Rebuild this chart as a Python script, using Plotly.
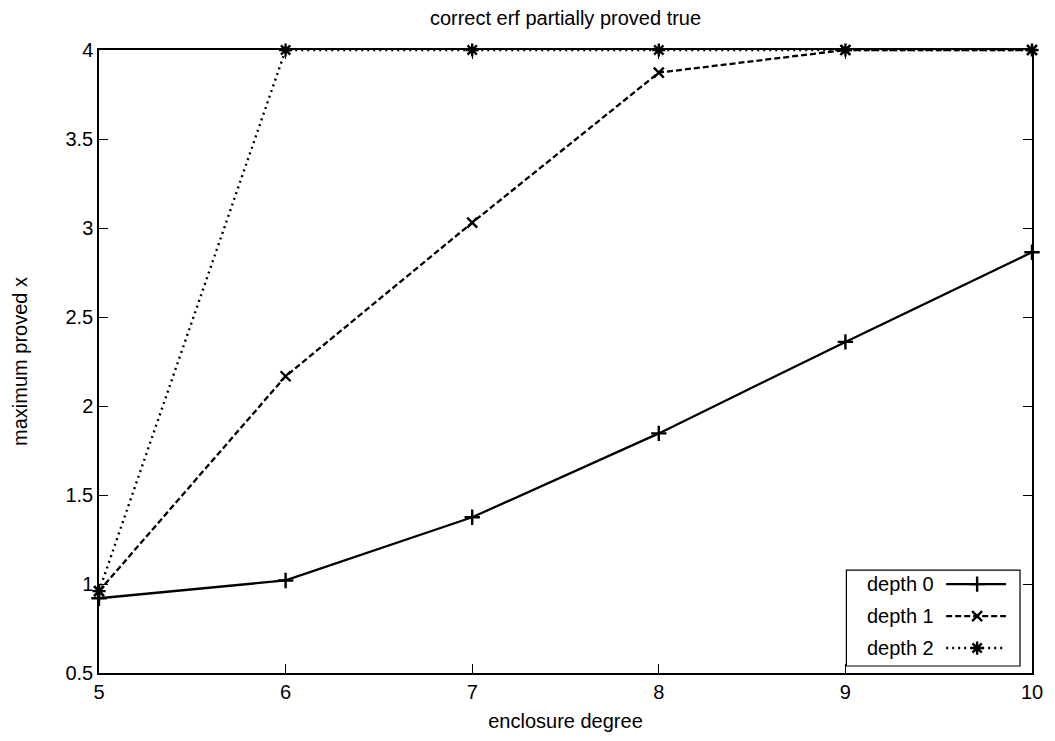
import plotly.graph_objects as go

# ---- data ----
degrees = [5, 6, 7, 8, 9, 10]
depth0 = [0.92, 1.02, 1.375, 1.846, 2.36, 2.864]
depth1 = [0.96, 2.167, 3.03, 3.873, 4.0, 4.0]
depth2 = [0.96, 4.0, 4.0, 4.0, 4.0, 4.0]
series_names = ["depth 0", "depth 1", "depth 2"]
y_ticks = [0.5, 1, 1.5, 2, 2.5, 3, 3.5, 4]
y_tick_text = ["0.5", "1", "1.5", "2", "2.5", "3", "3.5", "4"]
x_ticks = [5, 6, 7, 8, 9, 10]

W, H = 1055, 741
L, R, T, B = 99, 1034, 50, 674  # plot area in pixels
FONT = "Liberation Sans, Arial, Helvetica, sans-serif"
FS = 20

styles = [
    dict(dash="solid", width=2.3, symbol="cross-thin-open", msize=11),
    dict(dash="6px,3px", width=2.3, symbol="x-thin-open", msize=10),
    dict(dash="2px,4px", width=2.4, symbol="asterisk-open", msize=11),
]
values = [depth0, depth1, depth2]

fig = go.Figure()
for name, ys, st in zip(series_names, values, styles):
    fig.add_trace(go.Scatter(
        x=degrees, y=ys, name=name, mode="lines+markers",
        line=dict(color="black", width=st["width"], dash=st["dash"]),
        marker=dict(symbol=st["symbol"], size=st["msize"], color="black",
                    line=dict(color="black", width=2.4)),
        showlegend=False, cliponaxis=False,
    ))

# ---- custom gnuplot-style legend (text left, sample right) ----
def px(xp):
    return (xp - L) / (R - L)

def py(yp):
    return (B - yp) / (B - T)

shapes = [dict(type="rect", xref="paper", yref="paper",
               x0=px(848), x1=px(1022), y0=py(667), y1=py(571),
               line=dict(color="black", width=1.2), fillcolor="rgba(0,0,0,0)", layer="above")]
annotations = []
rows = [585, 617, 649]
for name, st, ry in zip(series_names, styles, rows):
    shapes.append(dict(type="line", xref="paper", yref="paper",
                       x0=px(948), x1=px(1008), y0=py(ry), y1=py(ry),
                       line=dict(color="black", width=st["width"], dash=st["dash"]),
                       layer="above"))
    annotations.append(dict(xref="paper", yref="paper", x=px(938), y=py(ry),
                            text=name, showarrow=False, xanchor="right",
                            yanchor="middle", font=dict(family=FONT, size=FS, color="black")))
    fig.add_trace(go.Scatter(
        x=[px(979)], y=[py(ry)], xaxis="x2", yaxis="y2", mode="markers",
        marker=dict(symbol=st["symbol"], size=st["msize"], color="black",
                    line=dict(color="black", width=2.4)),
        showlegend=False, hoverinfo="skip", cliponaxis=False,
    ))

axis_common = dict(
    showgrid=False, zeroline=False, showline=True, linecolor="black", linewidth=1.5,
    mirror="allticks", ticks="inside", ticklen=9, tickwidth=1.2, tickcolor="black",
    tickfont=dict(family=FONT, size=FS, color="black"),
)

fig.update_layout(
    width=W, height=H,
    margin=dict(l=L, r=W - R, t=T, b=H - B),
    paper_bgcolor="white", plot_bgcolor="white",
    title=dict(text="correct erf partially proved true", xref="paper", x=0.5, xanchor="center",
               y=1 - 18 / H, yanchor="middle",
               font=dict(family=FONT, size=FS, color="black")),
    xaxis=dict(range=[5, 10], tickvals=x_ticks,
               title=dict(text="enclosure degree", font=dict(family=FONT, size=FS, color="black"),
                          standoff=12),
               **axis_common),
    yaxis=dict(range=[0.5, 4], tickvals=y_ticks, ticktext=y_tick_text,
               title=dict(text="maximum proved x", font=dict(family=FONT, size=FS, color="black"),
                          standoff=32),
               **axis_common),
    xaxis2=dict(range=[0, 1], overlaying="x", visible=False),
    yaxis2=dict(range=[0, 1], overlaying="y", visible=False),
    shapes=shapes,
    annotations=annotations,
)

fig.write_html("out.html", config={"displayModeBar": False},
               post_script="document.body.style.margin='0px';")
